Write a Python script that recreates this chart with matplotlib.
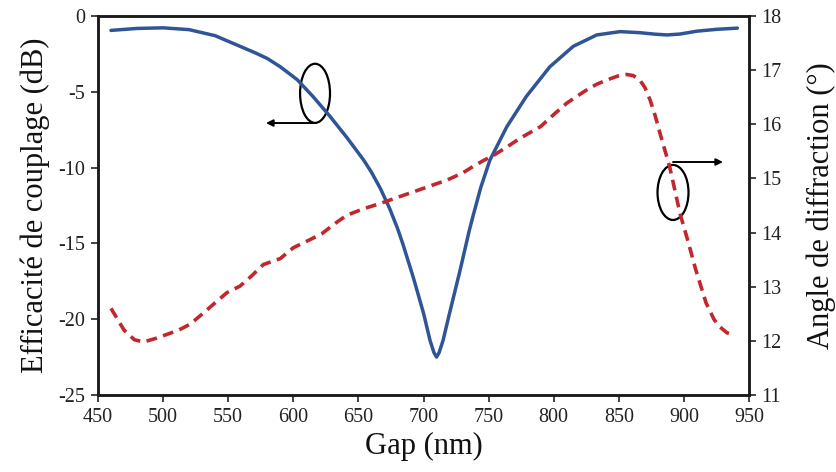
import matplotlib.pyplot as plt
from matplotlib.patches import Ellipse

# coupling efficiency (left axis, dB)
gap_eff = [460, 480, 500, 520, 540, 555, 570, 580, 590, 603, 615, 628, 641, 654,
           660, 667, 674, 680, 684, 692, 700, 705, 708, 710, 712, 715, 720, 728,
           735, 738, 744, 751, 764, 779, 797, 815, 833, 851, 866, 878, 887, 897,
           910, 925, 941]
eff_db = [-0.95, -0.82, -0.78, -0.9, -1.3, -1.85, -2.4, -2.8, -3.35, -4.2, -5.3,
          -6.6, -8.0, -9.5, -10.3, -11.4, -12.7, -14.0, -15.0, -17.2, -19.6,
          -21.4, -22.2, -22.5, -22.2, -21.4, -19.6, -16.8, -14.2, -13.2, -11.3,
          -9.5, -7.3, -5.3, -3.35, -2.0, -1.25, -1.03, -1.1, -1.2, -1.25, -1.19,
          -1.0, -0.88, -0.8]

# diffraction angle (right axis, degrees)
gap_ang = [460, 470, 478, 485, 495, 503, 512, 521, 535, 549, 559, 568, 577, 590,
           600, 612, 622, 631, 641, 654, 667, 680, 692, 705, 718, 730, 738, 746,
           754, 764, 774, 790, 800, 810, 818, 825, 833, 841, 849, 856, 861, 866,
           870, 874, 878, 882, 889, 897, 903, 909, 917, 923, 927, 933, 939]
angle_deg = [12.6, 12.2, 12.02, 11.98, 12.05, 12.12, 12.2, 12.31, 12.6, 12.89,
             13.01, 13.2, 13.41, 13.52, 13.72, 13.86, 13.98, 14.15, 14.32, 14.44,
             14.54, 14.65, 14.75, 14.86, 14.97, 15.1, 15.22, 15.33, 15.43, 15.58,
             15.74, 15.96, 16.18, 16.39, 16.52, 16.63, 16.74, 16.82, 16.89, 16.92,
             16.9, 16.82, 16.68, 16.45, 16.15, 15.8, 15.22, 14.35, 13.85, 13.32,
             12.7, 12.4, 12.27, 12.15, 12.1]

x_ticks = [450, 500, 550, 600, 650, 700, 750, 800, 850, 900, 950]
left_ticks = [0, -5, -10, -15, -20, -25]
right_ticks = [11, 12, 13, 14, 15, 16, 17, 18]

plt.rcParams['font.family'] = ['Liberation Serif', 'DejaVu Serif']
plt.rcParams['axes.unicode_minus'] = False

fig = plt.figure(figsize=(8.36, 4.72), dpi=100)
ax = fig.add_axes([0.1172, 0.1631, 0.7788, 0.803])
ax2 = ax.twinx()

ax.plot(gap_eff, eff_db, color='#2f5597', lw=2.5, solid_capstyle='round',
        solid_joinstyle='round')
ax2.plot(gap_ang, angle_deg, color='#c0282d', lw=2.6, dashes=(3, 1.8))

ax.set_xlim(450, 950)
ax.set_ylim(-25, 0)
ax2.set_ylim(11, 18)
ax.set_xticks(x_ticks)
ax.set_yticks(left_ticks)
ax2.set_yticks(right_ticks)

tick_color = '#222222'
for a in (ax, ax2):
    a.tick_params(direction='out', length=5, width=1.2, labelsize=14.5,
                  colors=tick_color, pad=4)
    for s in a.spines.values():
        s.set_linewidth(1.8)
        s.set_color('#1a1a1a')

ax.set_xlabel('Gap (nm)', fontsize=22, color='#111111', labelpad=4)
ax.set_ylabel('Efficacité de couplage (dB)', fontsize=22, color='#111111', labelpad=6)
ax2.set_ylabel('Angle de diffraction (°)', fontsize=22, color='#111111', labelpad=18)

# ellipse markers pointing to the matching axis
ell1 = Ellipse((616.7, -5.1), 23, 3.9, fill=False, ec='black', lw=1.6)
ax.add_patch(ell1)
ax.annotate('', xy=(579, -7.06), xytext=(617, -7.06),
            arrowprops=dict(arrowstyle='-|>', color='black', lw=1.4,
                            shrinkA=0, shrinkB=0, mutation_scale=10))
ell2 = Ellipse((891.6, -11.64), 23.8, 3.63, fill=False, ec='black', lw=1.6)
ax.add_patch(ell2)
ax.annotate('', xy=(930, -9.63), xytext=(891.6, -9.63),
            arrowprops=dict(arrowstyle='-|>', color='black', lw=1.4,
                            shrinkA=0, shrinkB=0, mutation_scale=10))

fig.savefig('out.png', dpi=100)
